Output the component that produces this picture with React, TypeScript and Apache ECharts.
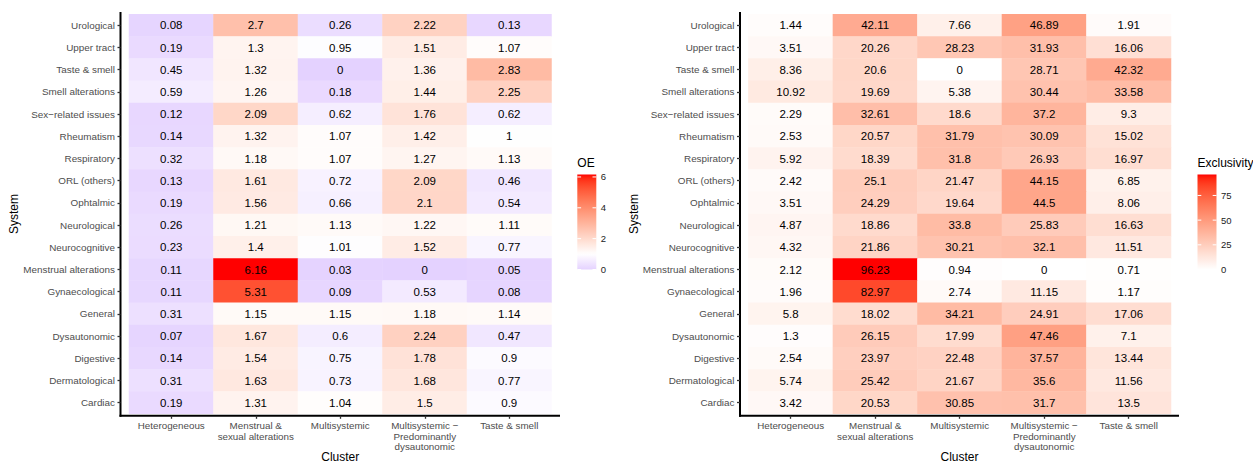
import React, { useEffect, useRef } from "react";
import * as echarts from "echarts";

// Rows (top to bottom) and columns of both heatmaps
const systems = [
  "Urological",
  "Upper tract",
  "Taste & smell",
  "Smell alterations",
  "Sex−related issues",
  "Rheumatism",
  "Respiratory",
  "ORL (others)",
  "Ophtalmic",
  "Neurological",
  "Neurocognitive",
  "Menstrual alterations",
  "Gynaecological",
  "General",
  "Dysautonomic",
  "Digestive",
  "Dermatological",
  "Cardiac",
];

const clusters = [
  "Heterogeneous",
  "Menstrual &\nsexual alterations",
  "Multisystemic",
  "Multisystemic −\nPredominantly\ndysautonomic",
  "Taste & smell",
];

// Observed / expected ratio, one row per system, one column per cluster
const oeValues = [
  [0.08, 2.7, 0.26, 2.22, 0.13],
  [0.19, 1.3, 0.95, 1.51, 1.07],
  [0.45, 1.32, 0, 1.36, 2.83],
  [0.59, 1.26, 0.18, 1.44, 2.25],
  [0.12, 2.09, 0.62, 1.76, 0.62],
  [0.14, 1.32, 1.07, 1.42, 1],
  [0.32, 1.18, 1.07, 1.27, 1.13],
  [0.13, 1.61, 0.72, 2.09, 0.46],
  [0.19, 1.56, 0.66, 2.1, 0.54],
  [0.26, 1.21, 1.13, 1.22, 1.11],
  [0.23, 1.4, 1.01, 1.52, 0.77],
  [0.11, 6.16, 0.03, 0, 0.05],
  [0.11, 5.31, 0.09, 0.53, 0.08],
  [0.31, 1.15, 1.15, 1.18, 1.14],
  [0.07, 1.67, 0.6, 2.24, 0.47],
  [0.14, 1.54, 0.75, 1.78, 0.9],
  [0.31, 1.63, 0.73, 1.68, 0.77],
  [0.19, 1.31, 1.04, 1.5, 0.9],
];

// Exclusivity (%), same layout
const exclusivityValues = [
  [1.44, 42.11, 7.66, 46.89, 1.91],
  [3.51, 20.26, 28.23, 31.93, 16.06],
  [8.36, 20.6, 0, 28.71, 42.32],
  [10.92, 19.69, 5.38, 30.44, 33.58],
  [2.29, 32.61, 18.6, 37.2, 9.3],
  [2.53, 20.57, 31.79, 30.09, 15.02],
  [5.92, 18.39, 31.8, 26.93, 16.97],
  [2.42, 25.1, 21.47, 44.15, 6.85],
  [3.51, 24.29, 19.64, 44.5, 8.06],
  [4.87, 18.86, 33.8, 25.83, 16.63],
  [4.32, 21.86, 30.21, 32.1, 11.51],
  [2.12, 96.23, 0.94, 0, 0.71],
  [1.96, 82.97, 2.74, 11.15, 1.17],
  [5.8, 18.02, 34.21, 24.91, 17.06],
  [1.3, 26.15, 17.99, 47.46, 7.1],
  [2.54, 23.97, 22.48, 37.57, 13.44],
  [5.74, 25.42, 21.67, 35.6, 11.56],
  [3.42, 20.53, 30.85, 31.7, 13.5],
];

const oeTicks = [0, 2, 4, 6];
const exclusivityTicks = [0, 25, 50, 75];
const OE_MID = 1;

// ---------- colour helpers (Lab interpolation) ----------
type Lab = [number, number, number];
const hexToRgb = (h: string) => [1, 3, 5].map((i) => parseInt(h.slice(i, i + 2), 16));
const toLin = (c: number) => {
  c /= 255;
  return c <= 0.04045 ? c / 12.92 : Math.pow((c + 0.055) / 1.055, 2.4);
};
const fromLin = (c: number) => {
  const v = c <= 0.0031308 ? 12.92 * c : 1.055 * Math.pow(c, 1 / 2.4) - 0.055;
  return Math.max(0, Math.min(255, Math.round(v * 255)));
};
const XN = 0.95047, YN = 1, ZN = 1.08883;
const fLab = (t: number) => (t > 0.008856 ? Math.cbrt(t) : 7.787 * t + 16 / 116);
const fInv = (t: number) => (t * t * t > 0.008856 ? t * t * t : (t - 16 / 116) / 7.787);
function hexToLab(h: string): Lab {
  const [r, g, b] = hexToRgb(h).map(toLin);
  const X = 0.4124 * r + 0.3576 * g + 0.1805 * b;
  const Y = 0.2126 * r + 0.7152 * g + 0.0722 * b;
  const Z = 0.0193 * r + 0.1192 * g + 0.9505 * b;
  const fx = fLab(X / XN), fy = fLab(Y / YN), fz = fLab(Z / ZN);
  return [116 * fy - 16, 500 * (fx - fy), 200 * (fy - fz)];
}
function labToHex([L, a, b]: Lab): string {
  const fy = (L + 16) / 116;
  const fx = fy + a / 500;
  const fz = fy - b / 200;
  const X = XN * fInv(fx), Y = YN * fInv(fy), Z = ZN * fInv(fz);
  const r = 3.2406 * X - 1.5372 * Y - 0.4986 * Z;
  const g = -0.9689 * X + 1.8758 * Y + 0.0415 * Z;
  const bb = 0.0557 * X - 0.204 * Y + 1.057 * Z;
  return "#" + [r, g, bb].map((c) => fromLin(c).toString(16).padStart(2, "0")).join("");
}
const mixLab = (p: Lab, q: Lab, t: number): Lab => [
  p[0] + (q[0] - p[0]) * t,
  p[1] + (q[1] - p[1]) * t,
  p[2] + (q[2] - p[2]) * t,
];
const BLUE = hexToLab("#0000ff");
const WHITE = hexToLab("#ffffff");
const RED = hexToLab("#ff0000");

const flat = (m: number[][]) => m.reduce((a, r) => a.concat(r), [] as number[]);
const oeMax = Math.max(...flat(oeValues));
const oeMin = Math.min(...flat(oeValues));
const exMax = Math.max(...flat(exclusivityValues));
const exMin = Math.min(...flat(exclusivityValues));

// diverging: blue - white (at midpoint) - red
function oeColor(v: number) {
  const half = Math.max(Math.abs(oeMax - OE_MID), Math.abs(oeMin - OE_MID));
  const t = (v - OE_MID) / (2 * half) + 0.5;
  return t < 0.5 ? labToHex(mixLab(WHITE, BLUE, (0.5 - t) * 2)) : labToHex(mixLab(WHITE, RED, (t - 0.5) * 2));
}
const exColor = (v: number) => labToHex(mixLab(WHITE, RED, (v - exMin) / (exMax - exMin)));

const N_STOPS = 64;
const stops = (fn: (v: number) => string, lo: number, hi: number) =>
  Array.from({ length: N_STOPS }, (_, i) => fn(lo + ((hi - lo) * i) / (N_STOPS - 1)));

const toCells = (m: number[][]) => {
  const out: number[][] = [];
  m.forEach((row, y) => row.forEach((v, x) => out.push([x, y, v])));
  return out;
};

// ---------- layout ----------
const CELL_TOP = 14.2;
const CELL_H = 399.6;
const PANELS = [
  { cellLeft: 129, cellW: 422.5, axisX: 120.5, axisRight: 560 },
  { cellLeft: 748.4, cellW: 422.6, axisX: 740, axisRight: 1179 },
];
const AXIS_Y = 415.8;
const FONT = "Liberation Sans, Arial, Helvetica, sans-serif";

function legendGraphics(
  x: number,
  title: string,
  fn: (v: number) => string,
  lo: number,
  hi: number,
  ticks: number[]
) {
  const top = 174.5, bottom = 269.5, w = 19;
  const yOf = (v: number) => bottom - ((v - lo) / (hi - lo)) * (bottom - top);
  const gradStops = Array.from({ length: 40 }, (_, i) => ({
    offset: i / 39,
    color: fn(hi - ((hi - lo) * i) / 39),
  }));
  const els: any[] = [
    {
      type: "text",
      x,
      y: 163,
      style: { text: title, fontSize: 12, fontFamily: FONT, fill: "#000", verticalAlign: "middle" },
    },
    {
      type: "rect",
      shape: { x, y: top, width: w, height: bottom - top },
      style: { fill: new echarts.graphic.LinearGradient(0, 0, 0, 1, gradStops) },
    },
  ];
  ticks.forEach((t) => {
    const y = yOf(t);
    els.push(
      { type: "line", shape: { x1: x, y1: y, x2: x + 3.8, y2: y }, style: { stroke: "#fff", lineWidth: 1 } },
      { type: "line", shape: { x1: x + w - 3.8, y1: y, x2: x + w, y2: y }, style: { stroke: "#fff", lineWidth: 1 } },
      {
        type: "text",
        x: x + w + 4.5,
        y,
        style: { text: String(t), fontSize: 9.5, fontFamily: FONT, fill: "#222", verticalAlign: "middle" },
      }
    );
  });
  return els;
}

export default function App() {
  const ref = useRef<HTMLDivElement>(null);

  useEffect(() => {
    if (!ref.current) return;
    const chart = echarts.init(ref.current, undefined, { renderer: "svg" });

    const xAxisBase = (gi: number) => ({
      type: "category",
      gridIndex: gi,
      data: clusters,
      offset: AXIS_Y - (CELL_TOP + CELL_H),
      axisLine: { show: false },
      axisTick: { show: true, alignWithLabel: true, length: 3, lineStyle: { color: "#333", width: 1.3 } },
      axisLabel: {
        interval: 0,
        margin: 4.5,
        color: "#4d4d4d",
        fontSize: 9.8,
        lineHeight: 10.6,
        fontFamily: FONT,
        align: "center",
      },
      splitLine: { show: false },
    });
    const yAxisBase = (gi: number) => ({
      type: "category",
      gridIndex: gi,
      data: systems,
      inverse: true,
      offset: PANELS[gi].cellLeft - PANELS[gi].axisX,
      axisLine: { show: false },
      axisTick: { show: true, alignWithLabel: true, length: 3, lineStyle: { color: "#333", width: 1.3 } },
      axisLabel: { interval: 0, margin: 5.5, color: "#4d4d4d", fontSize: 9.9, fontFamily: FONT },
      splitLine: { show: false },
    });

    const graphics: any[] = [];
    PANELS.forEach((p) => {
      graphics.push(
        {
          type: "line",
          shape: { x1: p.axisX, y1: 12, x2: p.axisX, y2: AXIS_Y + 1 },
          style: { stroke: "#000", lineWidth: 2 },
        },
        {
          type: "line",
          shape: { x1: p.axisX - 1, y1: AXIS_Y, x2: p.axisRight, y2: AXIS_Y },
          style: { stroke: "#000", lineWidth: 2 },
        },
        {
          type: "text",
          x: (p.axisX + p.axisRight) / 2,
          y: 457,
          style: { text: "Cluster", fontSize: 12, fontFamily: FONT, fill: "#000", align: "center", verticalAlign: "middle" },
        },
        {
          type: "text",
          x: p.axisX - 106.5,
          y: CELL_TOP + CELL_H / 2,
          rotation: Math.PI / 2,
          style: { text: "System", fontSize: 12, fontFamily: FONT, fill: "#000", align: "center", verticalAlign: "middle" },
        }
      );
    });
    graphics.push(...legendGraphics(577.3, "OE", oeColor, oeMin, oeMax, oeTicks));
    graphics.push(...legendGraphics(1197.5, "Exclusivity", exColor, exMin, exMax, exclusivityTicks));

    const cellLabel = {
      show: true,
      color: "#000",
      fontSize: 11.5,
      fontFamily: FONT,
      formatter: (p: any) => String(p.value[2]),
    };

    chart.setOption({
      animation: false,
      backgroundColor: "#fff",
      grid: PANELS.map((p) => ({ left: p.cellLeft, top: CELL_TOP, width: p.cellW, height: CELL_H })),
      xAxis: [xAxisBase(0), xAxisBase(1)],
      yAxis: [yAxisBase(0), yAxisBase(1)],
      visualMap: [
        {
          type: "continuous",
          show: false,
          seriesIndex: 0,
          dimension: 2,
          min: oeMin,
          max: oeMax,
          inRange: { color: stops(oeColor, oeMin, oeMax) },
        },
        {
          type: "continuous",
          show: false,
          seriesIndex: 1,
          dimension: 2,
          min: exMin,
          max: exMax,
          inRange: { color: stops(exColor, exMin, exMax) },
        },
      ],
      series: [
        {
          type: "heatmap",
          name: "OE",
          xAxisIndex: 0,
          yAxisIndex: 0,
          data: toCells(oeValues),
          label: cellLabel,
          emphasis: { disabled: true },
        },
        {
          type: "heatmap",
          name: "Exclusivity",
          xAxisIndex: 1,
          yAxisIndex: 1,
          data: toCells(exclusivityValues),
          label: cellLabel,
          emphasis: { disabled: true },
        },
      ],
      graphic: graphics,
    });

    return () => chart.dispose();
  }, []);

  return (
    <div
      ref={ref}
      style={{ position: "absolute", left: 0, top: 0, width: 1253, height: 463, background: "#fff" }}
    />
  );
}
